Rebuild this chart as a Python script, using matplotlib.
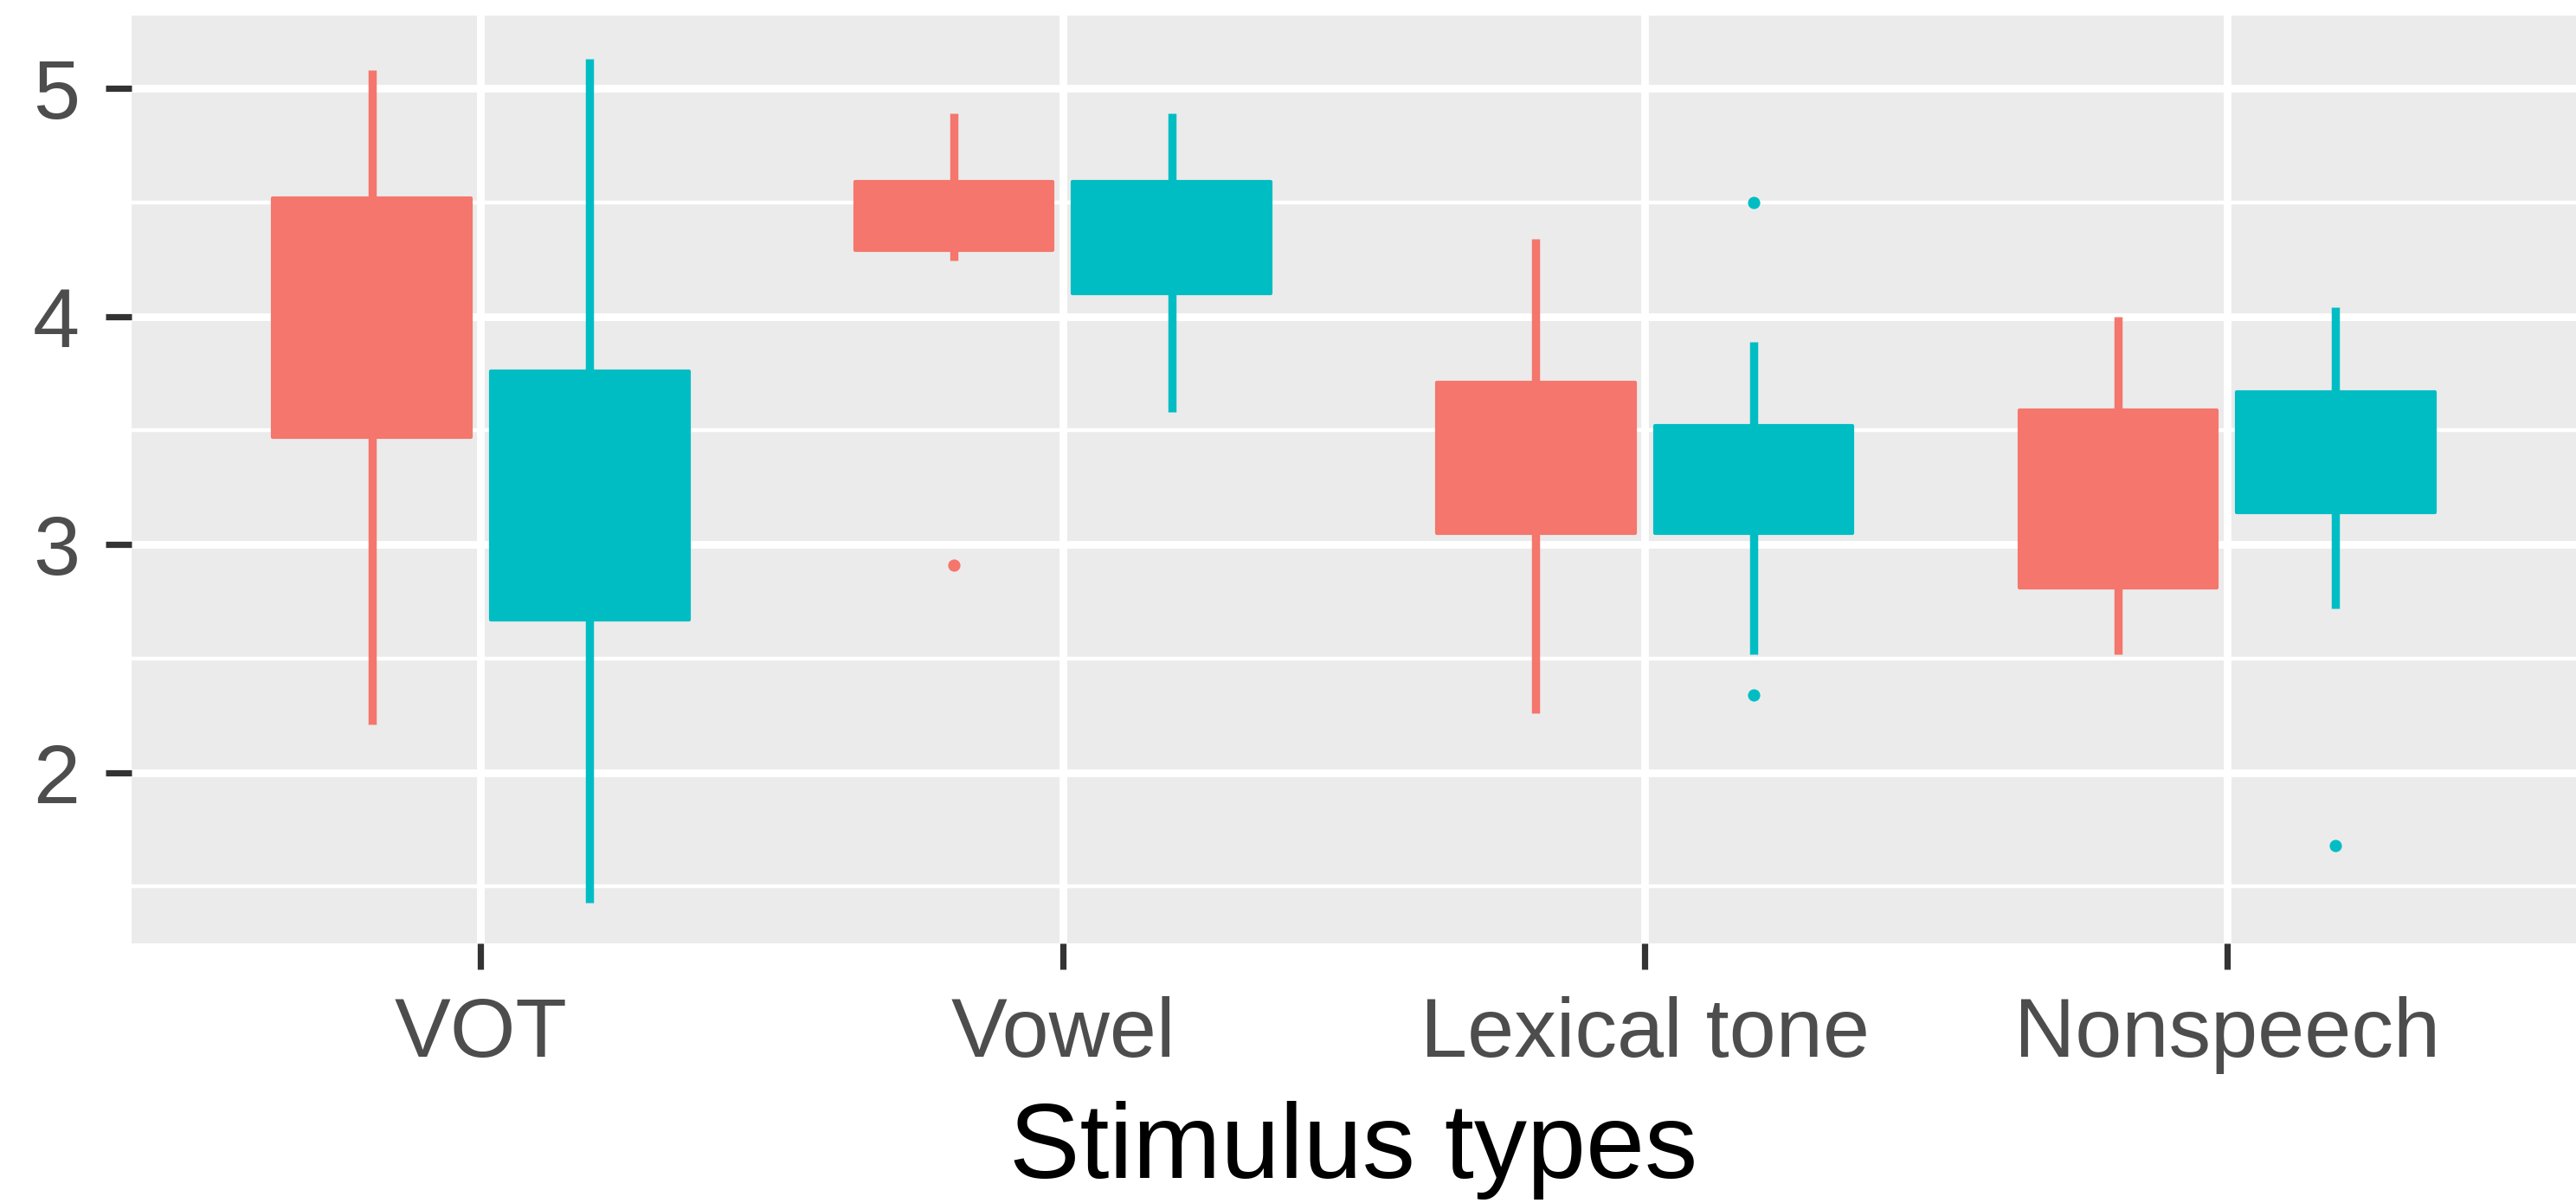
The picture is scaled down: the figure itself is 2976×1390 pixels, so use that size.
import numpy as np
import matplotlib.pyplot as plt

plt.rcParams['font.family'] = ['Liberation Sans', 'DejaVu Sans']

# stimulus categories on the x axis
categories = ['VOT', 'Vowel', 'Lexical tone', 'Nonspeech']

# first group (red): whisker ends, quartiles, outliers
red_lo = [2.21, 4.245, 2.26, 2.52]
red_q1 = [3.47, 4.29, 3.05, 2.81]
red_q3 = [4.52, 4.59, 3.71, 3.59]
red_hi = [5.08, 4.89, 4.34, 4.00]
red_out = [[], [2.91], [], []]

# second group (teal)
teal_lo = [1.43, 3.58, 2.52, 2.72]
teal_q1 = [2.67, 4.10, 3.05, 3.14]
teal_q3 = [3.76, 4.59, 3.52, 3.67]
teal_hi = [5.13, 4.89, 3.89, 4.04]
teal_out = [[], [], [4.50, 2.34], [1.68]]

RED = '#F4766C'
TEAL = '#00BDC4'

fig = plt.figure(figsize=(14.88, 6.95), dpi=200)
ax = fig.add_axes([0.0511, 0.2158, 0.9489, 0.7712])
ax.set_facecolor('#EBEBEB')

x = np.arange(1, len(categories) + 1)
offset = 0.187
box_w = 0.34


def draw_group(xpos, lo, q1, q3, hi, outs, color):
    q1 = np.array(q1)
    q3 = np.array(q3)
    ax.bar(xpos, q3 - q1, bottom=q1, width=box_w, color=color,
           edgecolor=color, linewidth=1.5, joinstyle='round', zorder=3)
    ax.vlines(xpos, q3, hi, color=color, linewidth=3.4, capstyle='butt', zorder=3)
    ax.vlines(xpos, lo, q1, color=color, linewidth=3.4, capstyle='butt', zorder=3)
    for xi, pts in zip(xpos, outs):
        if pts:
            ax.scatter([xi] * len(pts), pts, s=26, color=color, linewidths=0, zorder=4)


draw_group(x - offset, red_lo, red_q1, red_q3, red_hi, red_out, RED)
draw_group(x + offset, teal_lo, teal_q1, teal_q3, teal_hi, teal_out, TEAL)

ax.set_xlim(0.4, 4.6)
ax.set_ylim(1.25, 5.32)
ax.set_xticks(x)
ax.set_xticklabels(categories)
ax.set_yticks([2, 3, 4, 5])
ax.set_yticks([1.5, 2.5, 3.5, 4.5], minor=True)

# ggplot-like grid
ax.grid(which='major', color='white', linewidth=3.2, zorder=0)
ax.grid(which='minor', axis='y', color='white', linewidth=1.6, zorder=0)
ax.set_axisbelow(True)
for s in ax.spines.values():
    s.set_visible(False)

ax.tick_params(axis='both', which='major', length=10.8, width=2.6, color='#333333',
               labelsize=35, labelcolor='#4D4D4D')
ax.tick_params(axis='x', pad=11)
ax.tick_params(axis='y', pad=10.8)
ax.tick_params(which='minor', length=0)

ax.set_xlabel('Stimulus types', fontsize=44, color='black')
ax.xaxis.set_label_coords(0.5, -0.170)

fig.savefig('out.png', dpi=200, facecolor='white')
